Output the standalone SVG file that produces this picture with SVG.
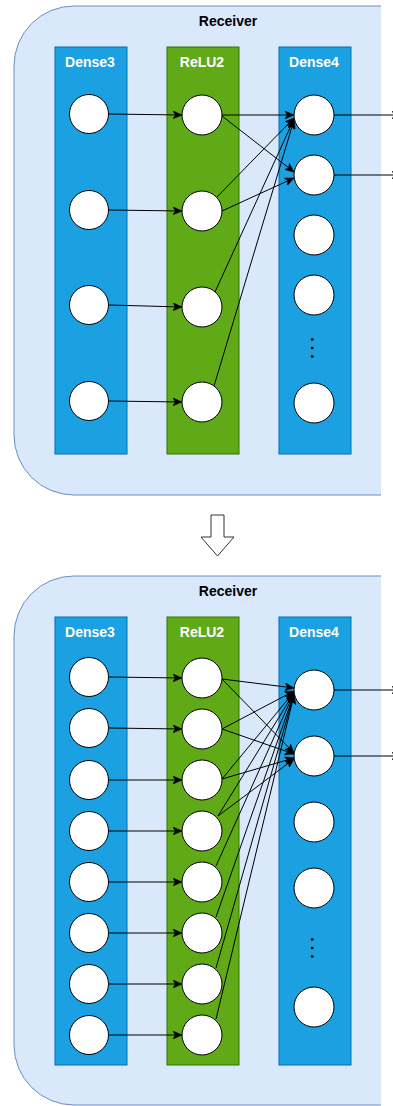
<svg xmlns="http://www.w3.org/2000/svg" width="393" height="1106" viewBox="0 0 393 1106">
<style>
.cont{fill:#dae8fc;stroke:#6c8ebf;stroke-width:1}
.d{fill:#1ba1e2;stroke:#006eaf;stroke-width:1}
.r{fill:#60a917;stroke:#2d7600;stroke-width:1}
.n{fill:#fff;stroke:#000;stroke-width:1}
.lbl{font-family:"Liberation Sans",Arial,sans-serif;font-weight:bold;font-size:14px;fill:#fff;text-anchor:middle}
.ttl{font-family:"Liberation Sans",Arial,sans-serif;font-weight:bold;font-size:14px;fill:#000;text-anchor:middle}
.dots{font-family:"Liberation Sans",Arial,sans-serif;font-weight:bold;font-size:16px;fill:#000;text-anchor:middle;letter-spacing:4px}
.e{fill:none;stroke:#000;stroke-width:1;marker-end:url(#a)}
</style>
<defs>
<marker id="a" markerUnits="userSpaceOnUse" viewBox="0 0 9 8" markerWidth="9" markerHeight="8" refX="9" refY="4" orient="auto">
<path d="M0,0 L9,4 L0,8 L2.2,4 z" fill="#000" stroke="#000" stroke-width="0.5"/>
</marker>
</defs>
<rect width="393" height="1106" fill="#fff"/>

<!-- top panel -->
<g id="receiver-top">
<path class="cont" d="M381,6 H74 A60,60 0 0 0 14,66 V435 A60,60 0 0 0 74,495 H381"/>
<text class="ttl" x="228" y="26">Receiver</text>
</g>
<g id="dense3-top"><rect class="d" x="55" y="47" width="72" height="407"/><text class="lbl" x="90" y="67">Dense3</text></g>
<g id="relu2-top"><rect class="r" x="167" y="47" width="72" height="407"/><text class="lbl" x="202" y="67">ReLU2</text></g>
<g id="dense4-top"><rect class="d" x="279" y="47" width="72" height="407"/><text class="lbl" x="314" y="67">Dense4</text></g>

<!-- bottom panel -->
<g id="receiver-bottom">
<path class="cont" d="M381,576 H74 A60,60 0 0 0 14,636 V1045 A60,60 0 0 0 74,1105 H381"/>
<text class="ttl" x="228" y="596">Receiver</text>
</g>
<g id="dense3-bottom"><rect class="d" x="55" y="617" width="72" height="448"/><text class="lbl" x="90" y="637">Dense3</text></g>
<g id="relu2-bottom"><rect class="r" x="167" y="617" width="72" height="448"/><text class="lbl" x="202" y="637">ReLU2</text></g>
<g id="dense4-bottom"><rect class="d" x="279" y="617" width="72" height="448"/><text class="lbl" x="314" y="637">Dense4</text></g>

<g id="transform-arrow">
<polygon points="211,515 224,515 224,537 234,537 217.5,556 201,537 211,537" fill="#fff" stroke="#333" stroke-width="1"/>
</g>

<g id="connectors">
<!-- top -->
<path class="e" d="M109,114 L182,115"/>
<path class="e" d="M109,210 L182,211"/>
<path class="e" d="M109,305 L182,307"/>
<path class="e" d="M109,401 L182,402"/>
<path class="e" d="M222,115 L294,115"/>
<path class="e" d="M222,116 L294,172"/>
<path class="e" d="M217,197 L294,118"/>
<path class="e" d="M222,211 L294,178"/>
<path class="e" d="M215,292 L294,119"/>
<path class="e" d="M214,386 L294,120"/>
<path class="e" d="M334,115 L401,115"/>
<path class="e" d="M334,175 L401,175"/>
<!-- bottom -->
<path class="e" d="M109,677 L182,678"/>
<path class="e" d="M109,728 L182,729"/>
<path class="e" d="M109,780 L182,780"/>
<path class="e" d="M109,831 L182,831"/>
<path class="e" d="M109,882 L182,882"/>
<path class="e" d="M109,933 L182,933"/>
<path class="e" d="M109,984 L182,984"/>
<path class="e" d="M109,1035 L182,1035"/>
<path class="e" d="M222,679 L294,688"/>
<path class="e" d="M222,679 L294,753"/>
<path class="e" d="M222,729 L294,691"/>
<path class="e" d="M222,729 L294,754"/>
<path class="e" d="M222,779 L294,692"/>
<path class="e" d="M222,779 L294,758"/>
<path class="e" d="M218,816 L294,693"/>
<path class="e" d="M218,816 L294,759"/>
<path class="e" d="M216,866 L294,693"/>
<path class="e" d="M216,917 L294,694"/>
<path class="e" d="M216,968 L294,694"/>
<path class="e" d="M216,1019 L294,695"/>
<path class="e" d="M334,690 L401,690"/>
<path class="e" d="M334,756 L401,756"/>
</g>

<!-- top nodes -->
<g id="t-d3-1"><circle class="n" cx="89" cy="114" r="19.5"/></g>
<g id="t-d3-2"><circle class="n" cx="89" cy="210" r="19.5"/></g>
<g id="t-d3-3"><circle class="n" cx="89" cy="305" r="19.5"/></g>
<g id="t-d3-4"><circle class="n" cx="89" cy="401" r="19.5"/></g>
<g id="t-r-1"><circle class="n" cx="202" cy="115" r="20"/></g>
<g id="t-r-2"><circle class="n" cx="202" cy="211" r="20"/></g>
<g id="t-r-3"><circle class="n" cx="202" cy="307" r="20"/></g>
<g id="t-r-4"><circle class="n" cx="202" cy="402" r="20"/></g>
<g id="t-d4-1"><circle class="n" cx="314" cy="115" r="20"/></g>
<g id="t-d4-2"><circle class="n" cx="314" cy="175" r="20"/></g>
<g id="t-d4-3"><circle class="n" cx="314" cy="235" r="20"/></g>
<g id="t-d4-4"><circle class="n" cx="314" cy="295" r="20"/></g>
<g id="t-d4-dots"><text class="dots" transform="translate(312,350) rotate(90)" x="0" y="1.1">...</text></g>
<g id="t-d4-n"><circle class="n" cx="314" cy="403" r="20"/></g>

<!-- bottom nodes -->
<g id="b-d3-1"><circle class="n" cx="89" cy="677" r="19.5"/></g>
<g id="b-d3-2"><circle class="n" cx="89" cy="728" r="19.5"/></g>
<g id="b-d3-3"><circle class="n" cx="89" cy="780" r="19.5"/></g>
<g id="b-d3-4"><circle class="n" cx="89" cy="831" r="19.5"/></g>
<g id="b-d3-5"><circle class="n" cx="89" cy="882" r="19.5"/></g>
<g id="b-d3-6"><circle class="n" cx="89" cy="933" r="19.5"/></g>
<g id="b-d3-7"><circle class="n" cx="89" cy="984" r="19.5"/></g>
<g id="b-d3-8"><circle class="n" cx="89" cy="1035" r="19.5"/></g>
<g id="b-r-1"><circle class="n" cx="202" cy="678" r="20"/></g>
<g id="b-r-2"><circle class="n" cx="202" cy="729" r="20"/></g>
<g id="b-r-3"><circle class="n" cx="202" cy="780" r="20"/></g>
<g id="b-r-4"><circle class="n" cx="202" cy="831" r="20"/></g>
<g id="b-r-5"><circle class="n" cx="202" cy="882" r="20"/></g>
<g id="b-r-6"><circle class="n" cx="202" cy="933" r="20"/></g>
<g id="b-r-7"><circle class="n" cx="202" cy="984" r="20"/></g>
<g id="b-r-8"><circle class="n" cx="202" cy="1035" r="20"/></g>
<g id="b-d4-1"><circle class="n" cx="314" cy="690" r="20"/></g>
<g id="b-d4-2"><circle class="n" cx="314" cy="756" r="20"/></g>
<g id="b-d4-3"><circle class="n" cx="314" cy="822" r="20"/></g>
<g id="b-d4-4"><circle class="n" cx="314" cy="888" r="20"/></g>
<g id="b-d4-dots"><text class="dots" transform="translate(312,950) rotate(90)" x="0" y="1.1">...</text></g>
<g id="b-d4-n"><circle class="n" cx="314" cy="1007" r="20"/></g>
</svg>
